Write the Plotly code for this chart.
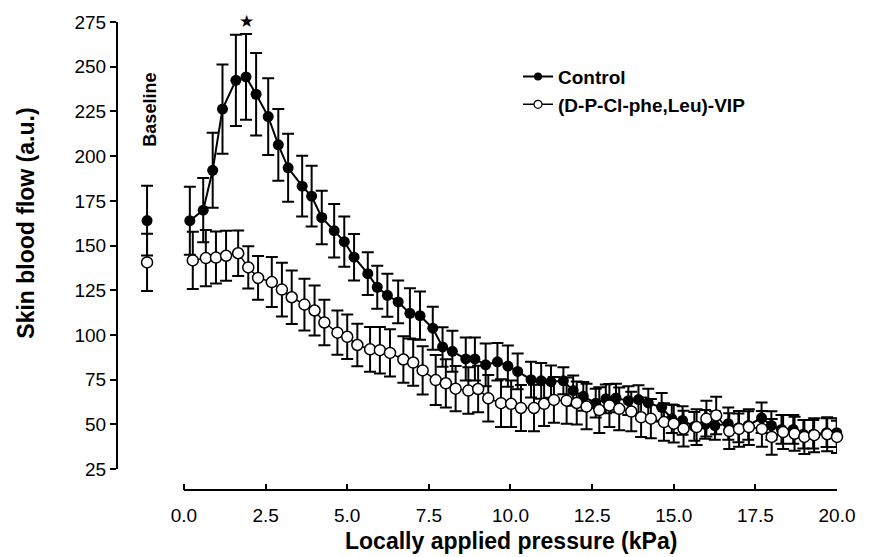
import plotly.graph_objects as go

# ---------------- data ----------------
ctrl_x = [0.18, 0.59, 0.88, 1.18, 1.59, 1.90, 2.21, 2.58, 2.89, 3.19, 3.62, 3.91, 4.22, 4.60, 4.91,
          5.21, 5.63, 5.92, 6.23, 6.56, 6.92, 7.23, 7.62, 7.92, 8.22, 8.63, 8.91, 9.24, 9.60, 9.92,
          10.22, 10.63, 10.94, 11.24, 11.62, 11.92, 12.23, 12.61, 12.92, 13.23, 13.61, 13.92, 14.22,
          14.63, 14.94, 15.27, 15.63, 15.96, 16.26, 16.67, 16.98, 17.28, 17.69, 17.99, 18.30, 18.66,
          18.97, 19.27, 19.68, 19.99]
ctrl_y = [163.9, 169.8, 192.1, 226.3, 242.4, 244.3, 234.6, 222.1, 206.3, 193.5, 183.2, 177.6, 165.7,
          158.3, 152.2, 143.5, 134.3, 126.7, 122.2, 118.5, 112.1, 110.8, 103.8, 93.3, 90.9, 86.6, 86.6,
          83.3, 85.0, 82.6, 79.6, 75.0, 74.4, 73.9, 74.4, 68.9, 65.7, 61.9, 64.3, 64.8, 63.3, 63.9,
          62.0, 59.6, 53.2, 52.2, 48.9, 50.0, 49.4, 50.4, 48.1, 49.4, 53.7, 49.4, 47.2, 47.2, 44.5,
          44.5, 45.4, 45.4]
ctrl_err = [19, 18, 21, 25, 25.5, 24, 23, 21.5, 20, 19, 17, 17, 15, 15, 14, 13, 12, 12, 12, 12,
            14, 13.5, 12, 11, 11.5, 12, 12, 12, 10.5, 11.5, 10, 10, 10, 9, 7.5, 8.5, 8, 8, 8, 8,
            8, 8, 8, 8, 8, 8, 8, 8, 8, 9, 8, 8, 8.5, 8, 8, 8, 8, 8, 8, 8]

vip_x = [0.27, 0.67, 0.98, 1.29, 1.66, 1.97, 2.27, 2.69, 3.00, 3.30, 3.69, 4.00, 4.30, 4.70, 5.00,
         5.31, 5.70, 6.00, 6.31, 6.72, 7.02, 7.31, 7.71, 8.02, 8.32, 8.71, 9.01, 9.32, 9.71, 10.02,
         10.32, 10.72, 11.03, 11.33, 11.72, 12.03, 12.33, 12.72, 13.03, 13.33, 13.70, 14.00, 14.30,
         14.70, 15.00, 15.30, 15.70, 16.00, 16.30, 16.70, 17.00, 17.30, 17.70, 18.00, 18.35, 18.70,
         19.00, 19.30, 19.70, 20.00]
vip_y = [141.7, 143.0, 143.3, 144.3, 145.7, 137.8, 131.9, 129.6, 125.4, 121.1, 117.0, 113.7, 107.0,
         101.3, 99.0, 94.4, 92.0, 91.5, 90.0, 86.3, 84.6, 80.2, 74.8, 73.0, 70.0, 68.9, 69.8, 64.6,
         61.9, 61.5, 59.2, 59.2, 61.5, 63.7, 63.3, 62.0, 60.0, 58.0, 60.6, 58.7, 57.2, 54.0, 53.2,
         51.3, 50.4, 47.6, 48.5, 53.2, 55.0, 46.3, 47.5, 48.5, 47.5, 43.0, 45.7, 44.8, 43.0, 44.0,
         44.5, 43.0]
vip_err = [16, 15.7, 14.5, 14, 12.7, 11.8, 12.2, 14, 15, 15, 14.5, 14, 12.7, 12.4, 12.4, 11.9,
           12.5, 13, 13.2, 13, 13, 13.5, 14, 13.5, 12.7, 13, 13, 13, 13.3, 13, 12.9, 13, 12.4,
           12.8, 12.9, 12, 12.7, 12.8, 12, 12, 11, 11, 11, 10.5, 10.5, 10, 10, 10, 10.5, 10, 10,
           10, 10, 10, 9.5, 9.5, 9.5, 9.5, 9.5, 9]

baseline_x = [-1.13]
baseline_ctrl_y = [164.0]
baseline_ctrl_err = [19.5]
baseline_vip_y = [140.6]
baseline_vip_err = [16.0]

x_ticks = [0.0, 2.5, 5.0, 7.5, 10.0, 12.5, 15.0, 17.5, 20.0]
x_ticktext = ["0.0", "2.5", "5.0", "7.5", "10.0", "12.5", "15.0", "17.5", "20.0"]
y_ticks = [25, 50, 75, 100, 125, 150, 175, 200, 225, 250, 275]

series_names = ["Control", "(D-P-Cl-phe,Leu)-VIP"]
star_pos = (1.9, 275)

# ---------------- figure ----------------
FONT = "Liberation Sans, Arial, Helvetica, sans-serif"

fig = go.Figure()

err_style = dict(type="data", color="black", thickness=2, width=6)

fig.add_trace(go.Scatter(
    x=ctrl_x, y=ctrl_y, mode="lines+markers",
    line=dict(color="black", width=2),
    marker=dict(symbol="circle", size=11, color="black"),
    error_y=dict(array=ctrl_err, **err_style),
    showlegend=False, cliponaxis=False))
fig.add_trace(go.Scatter(
    x=vip_x, y=vip_y, mode="lines+markers",
    line=dict(color="black", width=1.5),
    marker=dict(symbol="circle", size=11, color="white", line=dict(color="black", width=1.5)),
    error_y=dict(array=vip_err, **err_style),
    showlegend=False, cliponaxis=False))

# baseline points
fig.add_trace(go.Scatter(
    x=baseline_x, y=baseline_ctrl_y, mode="markers",
    marker=dict(symbol="circle", size=11, color="black"),
    error_y=dict(array=baseline_ctrl_err, **err_style),
    showlegend=False, cliponaxis=False))
fig.add_trace(go.Scatter(
    x=baseline_x, y=baseline_vip_y, mode="markers",
    marker=dict(symbol="circle", size=11, color="white", line=dict(color="black", width=1.5)),
    error_y=dict(array=baseline_vip_err, **err_style),
    showlegend=False, cliponaxis=False))

# legend entries
fig.add_trace(go.Scatter(
    x=[None], y=[None], mode="lines+markers", name=series_names[0],
    line=dict(color="black", width=2),
    marker=dict(symbol="circle", size=8, color="black")))
fig.add_trace(go.Scatter(
    x=[None], y=[None], mode="lines+markers", name=series_names[1],
    line=dict(color="black", width=1.5),
    marker=dict(symbol="circle", size=8, color="white", line=dict(color="black", width=1.2))))

W, H = 874, 557
ML, MR, MT, MB = 118, 37, 19, 67
PW, PH = W - ML - MR, H - MT - MB


def px_to_paper_x(px):
    return (px - ML) / PW


def px_to_paper_y(py):
    return (H - MB - py) / PH


TICK_SIZE = 19

fig.update_layout(
    width=W, height=H,
    margin=dict(l=ML, r=MR, t=MT, b=MB),
    paper_bgcolor="white", plot_bgcolor="white",
    font=dict(family=FONT, color="black", size=TICK_SIZE),
    showlegend=True,
    legend=dict(x=px_to_paper_x(518), y=px_to_paper_y(55), xanchor="left", yanchor="top",
                bgcolor="rgba(0,0,0,0)", borderwidth=0,
                font=dict(family=FONT, size=19, color="black", weight="bold"),
                tracegroupgap=0, itemwidth=30),
    xaxis=dict(range=[-2.02, 20.0], tickvals=x_ticks, ticktext=x_ticktext,
               ticks="inside", ticklen=6, tickwidth=2, tickcolor="black",
               showline=False, showgrid=False, zeroline=False,
               anchor="free", position=0, ticklabelstandoff=12,
               tickfont=dict(family=FONT, size=TICK_SIZE, color="black")),
    yaxis=dict(domain=[(490 - 469) / PH, 1], range=[25, 275], tickvals=y_ticks,
               ticks="outside", ticklen=6, tickwidth=2, tickcolor="black",
               showline=True, linewidth=2, linecolor="black",
               showgrid=False, zeroline=False,
               tickfont=dict(family=FONT, size=TICK_SIZE, color="black")),
)

# x axis line only from 0 to 20
fig.add_shape(type="line", xref="x", yref="paper", x0=x_ticks[0], x1=x_ticks[-1], y0=0, y1=0,
              line=dict(color="black", width=2))

fig.add_annotation(x=star_pos[0], y=star_pos[1], text="★", showarrow=False,
                   font=dict(family="DejaVu Sans", size=17, color="black"),
                   xanchor="center", yanchor="middle", yshift=1)
fig.add_annotation(x=-1.04, y=226, text="Baseline", textangle=-90, showarrow=False,
                   font=dict(family=FONT, size=18, color="black", weight="bold"),
                   xanchor="center", yanchor="middle")
fig.add_annotation(xref="paper", yref="paper", x=px_to_paper_x(26), y=px_to_paper_y(222),
                   text="Skin blood flow (a.u.)", textangle=-90, showarrow=False,
                   font=dict(family=FONT, size=23, color="black", weight="bold"),
                   xanchor="center", yanchor="middle")
fig.add_annotation(xref="paper", yref="paper", x=px_to_paper_x(511), y=px_to_paper_y(541),
                   text="Locally applied pressure (kPa)", showarrow=False,
                   font=dict(family=FONT, size=23, color="black", weight="bold"),
                   xanchor="center", yanchor="middle")

fig.write_html("out.html")
